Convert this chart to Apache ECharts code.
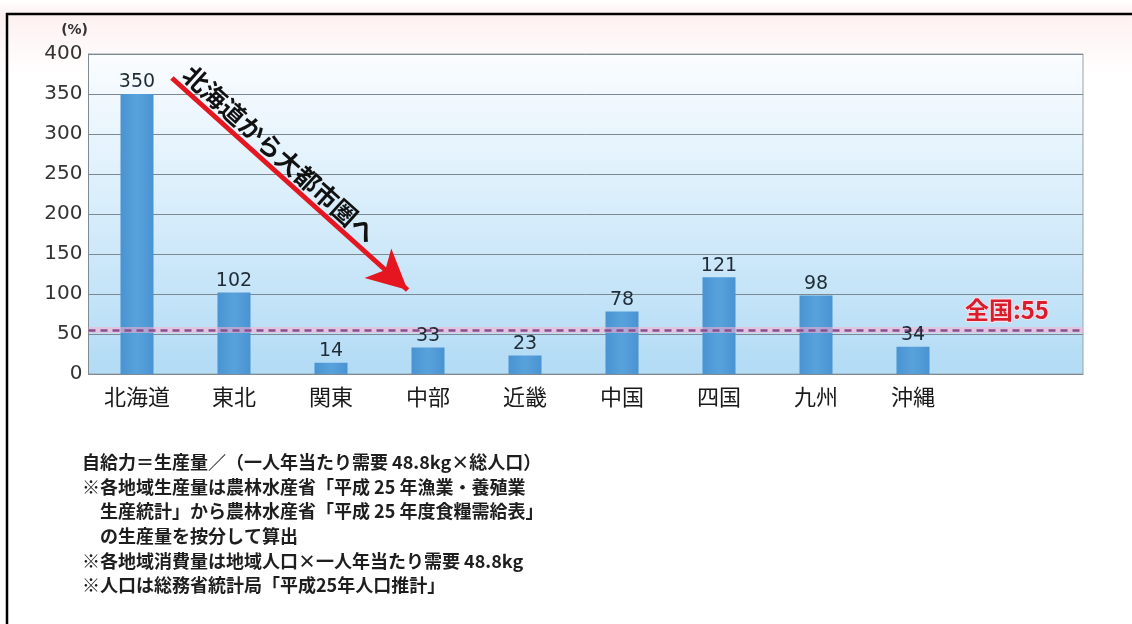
<!DOCTYPE html>
<html>
<head>
<meta charset="utf-8">
<title>地域別 水産物自給力</title>
<script src="https://cdn.jsdelivr.net/npm/echarts@6/dist/echarts.min.js"></script>
<style>
  html, body { margin: 0; padding: 0; background: #fff; }
  #chart { width: 1132px; height: 624px; }
</style>
</head>
<body>
<div id="chart"></div>
<script>
// 地域ごとの自給力（%）
const regions = ['北海道', '東北', '関東', '中部', '近畿', '中国', '四国', '九州', '沖縄'];
const selfSufficiency = [350, 102, 14, 33, 23, 78, 121, 98, 34];
const nationalAverage = 55;
const nationalLabel = '全国:55';
const yTicks = { min: 0, max: 400, interval: 50 };
const unitLabel = '(%)';
const arrowText = '北海道から大都市圏へ';
// 矢印の始点・終点（x: 地域の並び順, y: %）
const arrowFrom = [0.36, 370];
const arrowTo = [2.79, 105];
const notes = [
  '自給力＝生産量／（一人年当たり需要 48.8kg×総人口）',
  '※各地域生産量は農林水産省「平成 25 年漁業・養殖業',
  '　生産統計」から農林水産省「平成 25 年度食糧需給表」',
  '　の生産量を按分して算出',
  '※各地域消費量は地域人口×一人年当たり需要 48.8kg',
  '※人口は総務省統計局「平成25年人口推計」'
];

const JP = '"Noto Sans CJK JP", "Noto Sans", sans-serif';
const NUM = '"DejaVu Sans", "Liberation Sans", sans-serif';

const chart = echarts.init(document.getElementById('chart'), null, { renderer: 'canvas' });

// 棒の領域は地域1つあたり97px、背景の枠はそれより右へ伸びる
const plotLeft = 88.5, plotRight = 1083, band = 97;
const plotTop = 54, plotBottom = 374;
const bgMaxIndex = -0.5 + (plotRight - plotLeft) / band;

chart.setOption({
  animation: false,
  backgroundColor: {
    type: 'linear', x: 0, y: 0, x2: 0, y2: 1,
    colorStops: [
      { offset: 0, color: '#ffffff' },
      { offset: 0.024, color: '#fdf1f0' },
      { offset: 0.12, color: '#ffffff' },
      { offset: 1, color: '#ffffff' }
    ]
  },
  grid: [
    {
      left: plotLeft, right: 1132 - plotRight, top: plotTop, bottom: 624 - plotBottom,
      show: true,
      borderColor: '#98a2a9', borderWidth: 1,
      backgroundColor: {
        type: 'linear', x: 0, y: 0, x2: 0, y2: 1,
        colorStops: [
          { offset: 0, color: '#fbfdff' },
          { offset: 0.45, color: '#daeefb' },
          { offset: 1, color: '#b2dbf5' }
        ]
      }
    },
    {
      left: plotLeft, width: band * regions.length, top: plotTop, bottom: 624 - plotBottom
    }
  ],
  xAxis: [
    {
      gridIndex: 0, type: 'value', min: -0.5, max: bgMaxIndex,
      axisLine: { show: true, onZero: false, lineStyle: { color: '#7f8a92', width: 1 } },
      axisTick: { show: false }, axisLabel: { show: false }, splitLine: { show: false }
    },
    {
      gridIndex: 1, type: 'category', data: regions,
      axisLine: { show: false }, axisTick: { show: false }, splitLine: { show: false },
      axisLabel: { color: '#1a1a1a', fontSize: 22, fontFamily: JP, margin: 12 }
    }
  ],
  yAxis: [
    {
      gridIndex: 0, type: 'value', min: yTicks.min, max: yTicks.max, interval: yTicks.interval,
      axisLine: { show: true, onZero: false, lineStyle: { color: '#7f8a92', width: 1 } },
      axisTick: { show: false },
      axisLabel: { color: '#333', fontSize: 20, fontFamily: NUM, margin: 6 },
      splitLine: { show: true, lineStyle: { color: '#7d8992', width: 1 } }
    },
    {
      gridIndex: 1, type: 'value', min: yTicks.min, max: yTicks.max, show: false
    }
  ],
  series: [
    {
      type: 'bar', name: '自給力', xAxisIndex: 1, yAxisIndex: 1,
      data: selfSufficiency, barWidth: 33, z: 2,
      itemStyle: {
        color: {
          type: 'linear', x: 0, y: 0, x2: 1, y2: 0,
          colorStops: [
            { offset: 0, color: '#4a93d2' },
            { offset: 0.5, color: '#58a2dc' },
            { offset: 1, color: '#4a93d2' }
          ]
        }
      }
    },
    {
      // 数値ラベルは破線より手前に描く
      type: 'bar', name: '自給力ラベル', xAxisIndex: 1, yAxisIndex: 1,
      data: selfSufficiency, barWidth: 33, barGap: '-100%', z: 10, silent: true,
      itemStyle: { color: 'rgba(0,0,0,0)' },
      label: {
        show: true, position: 'top', distance: 2,
        color: '#1f2b36', fontSize: 19, fontFamily: NUM
      }
    },
    {
      // 全国平均の破線と矢印
      type: 'line', xAxisIndex: 0, yAxisIndex: 0, data: [], z: 5,
      silent: true,
      markLine: {
        silent: true, animation: false, symbol: 'none',
        data: [
          {
            yAxis: nationalAverage,
            lineStyle: { color: 'rgba(255,175,205,0.55)', width: 6, type: 'solid' },
            label: { show: false }
          },
          {
            yAxis: nationalAverage,
            lineStyle: { color: '#86508e', width: 2.5, type: [7, 5] },
            label: {
              show: true, formatter: nationalLabel, position: 'insideEndTop',
              distance: [34, 8],
              color: '#da1d2c', fontSize: 24, fontWeight: 'bold', fontFamily: JP,
              textBorderColor: '#ffdfe6', textBorderWidth: 2
            }
          },
          [
            { coord: arrowFrom, symbol: 'none' },
            {
              coord: arrowTo, symbol: 'arrow', symbolSize: [30, 40],
              lineStyle: { color: '#e5161f', width: 5, type: 'solid' },
              label: {
                show: true, formatter: arrowText, position: 'insideStartTop', distance: [6, 3],
                color: '#111', fontSize: 25, fontWeight: 'bold', fontFamily: JP
              }
            }
          ]
        ]
      }
    }
  ],
  graphic: [
    {
      type: 'line', z: 10, silent: true,
      shape: { x1: 6, y1: 14, x2: 1132, y2: 14 },
      style: { stroke: '#000', lineWidth: 2.5 }
    },
    {
      type: 'line', z: 10, silent: true,
      shape: { x1: 7, y1: 13, x2: 7, y2: 624 },
      style: { stroke: '#000', lineWidth: 2.5 }
    },
    {
      type: 'text', z: 10, silent: true, right: 1132 - 88, top: 23,
      style: {
        text: unitLabel, fill: '#333', fontSize: 14, fontWeight: 'bold', fontFamily: NUM
      }
    },
    {
      type: 'text', z: 10, silent: true, left: 82, top: 450,
      style: {
        text: notes.join('\n'),
        fill: '#1e1e1e', fontSize: 18, fontWeight: 'bold', fontFamily: JP,
        lineHeight: 24.6
      }
    }
  ]
});
</script>
</body>
</html>
